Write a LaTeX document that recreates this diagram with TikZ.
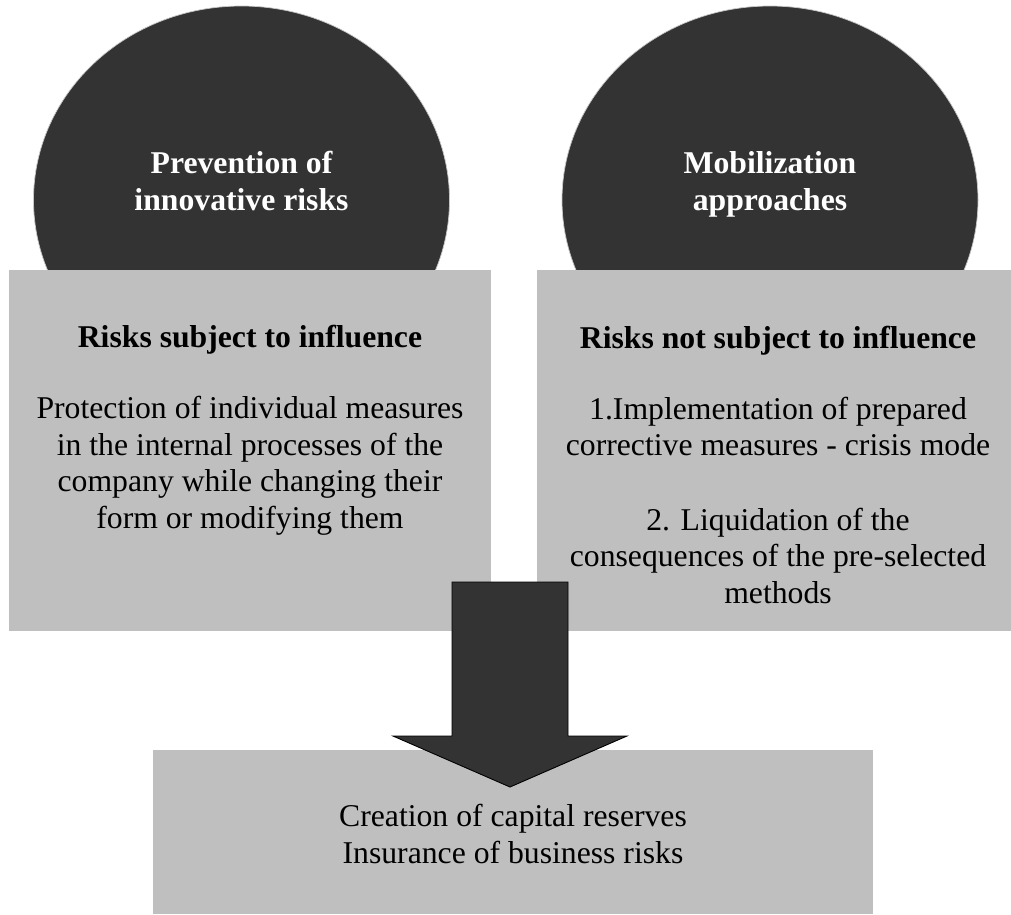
\documentclass[tikz,border=0pt]{standalone}
\usepackage{fontspec}
\setmainfont{Liberation Serif}
\definecolor{darkfill}{HTML}{333333}
\definecolor{panelgray}{HTML}{BFBFBF}
\begin{document}
\begin{tikzpicture}[x=1pt,y=-1pt,
  bubble/.style={fill=darkfill,draw=white!78!black,line width=0.7pt},
  panel/.style={fill=panelgray,draw=none,inner sep=0pt},
  bubbletext/.style={text=white,font=\fontsize{31.7}{37}\selectfont\bfseries,align=center,inner sep=0pt,anchor=base},
  headtext/.style={font=\fontsize{31.7}{36.5}\selectfont\bfseries,align=center,inner sep=0pt,anchor=base},
  bodytext/.style={font=\fontsize{31.7}{36.5}\selectfont,align=center,inner sep=0pt,anchor=base},
  blockarrow/.style={fill=darkfill,draw=black,line width=0.9pt,line join=miter}]
\useasboundingbox (0,0) rectangle (1011,914);
\begin{scope}
\clip (0,0) rectangle (1011,914);
% two round headers behind the panels
\draw[bubble] (241.5,200) ellipse [x radius=208, y radius=194];
\draw[bubble] (770,200) ellipse [x radius=208, y radius=194];
% (multi-line nodes are placed by the baseline of their last line)
\node[bubbletext] (prevention) at (241.5,210) {Prevention of\\innovative risks};
\node[bubbletext] (mobilization) at (770,210) {Mobilization\\approaches};
% grey panels
\node[panel,minimum width=482pt,minimum height=361pt] (leftpanel) at (250,450.5) {};
\node[panel,minimum width=482pt,minimum height=361pt] (rightpanel) at (778,450.5) {};
\node[panel,minimum width=720pt,minimum height=164pt] (bottompanel) at (513,832) {};
% panel texts
\node[headtext] (lefthead) at (250,347) {Risks subject to influence};
\node[bodytext] (leftbody) at (250,528) {Protection of individual measures\\in the internal processes of the\\company while changing their\\form or modifying them};
\node[headtext] (righthead) at (778,348) {Risks not subject to influence};
\node[bodytext] (rightbody) at (778,603) {1.Implementation of prepared\\corrective measures - crisis mode\\[38pt]2. Liquidation of the\\consequences of the pre-selected\\methods};
\node[bodytext] (bottomtext) at (513,863) {Creation of capital reserves\\Insurance of business risks};
% block arrow pointing down into the bottom panel
\coordinate (arrowtip) at (510,787);
\draw[blockarrow] (452,582) -- (568,582) -- (568,736) -- (627,736) -- (arrowtip) -- (393,736) -- (452,736) -- cycle;
\end{scope}
\end{tikzpicture}
\end{document}
